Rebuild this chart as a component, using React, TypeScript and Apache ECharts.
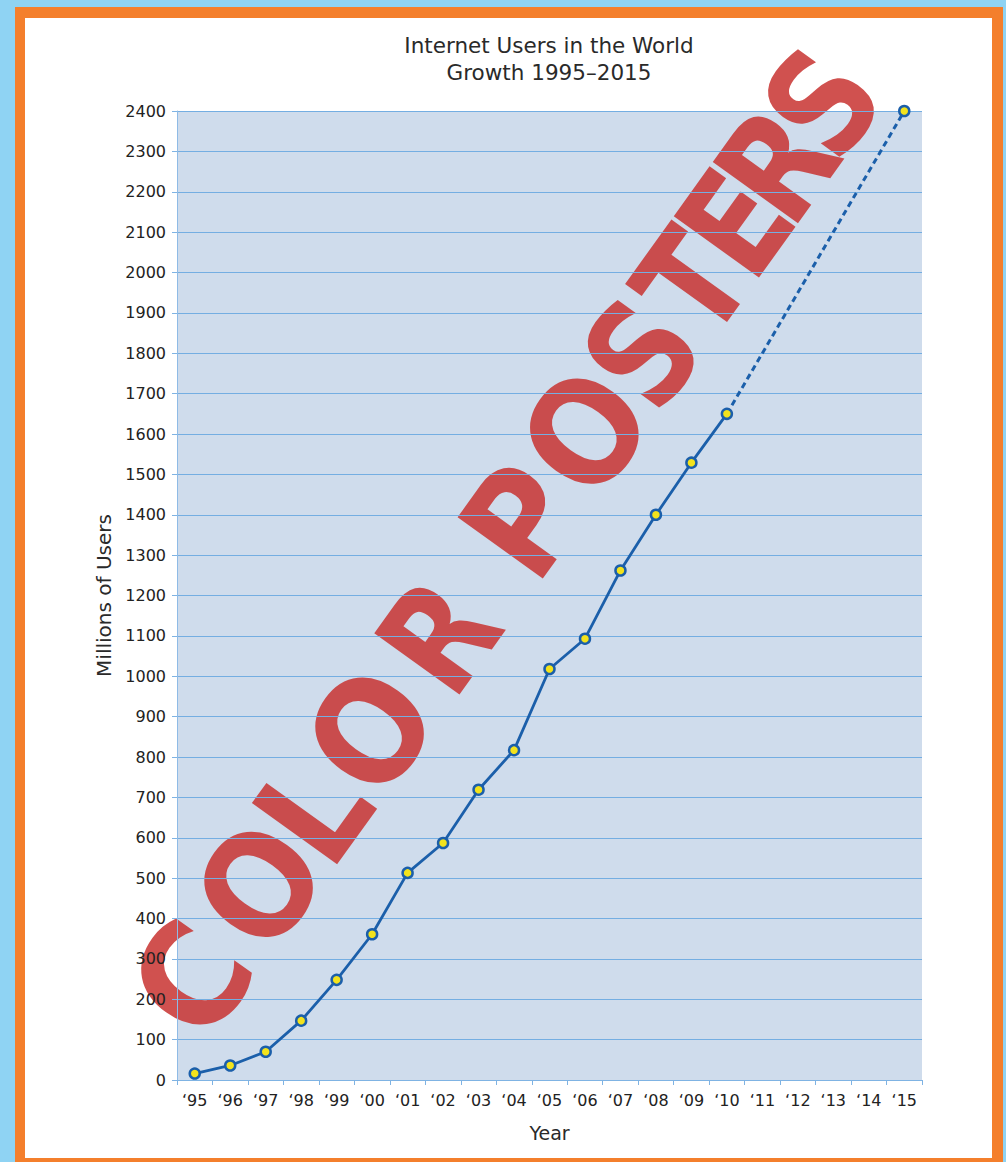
import React, { useEffect, useRef } from "react";
import * as echarts from "echarts";

const years = [
  "\u201895", "\u201896", "\u201897", "\u201898", "\u201899", "\u201800", "\u201801",
  "\u201802", "\u201803", "\u201804", "\u201805", "\u201806", "\u201807", "\u201808",
  "\u201809", "\u201810", "\u201811", "\u201812", "\u201813", "\u201814", "\u201815",
];
// Millions of users, 1995-2010 (solid line)
const usersActual = [16, 36, 70, 147, 248, 361, 513, 587, 719, 817, 1018, 1093, 1262, 1400, 1529, 1650];
// Projection from '10 to '15 (dashed line)
const projectionYears = ["\u201810", "\u201815"];
const projectionValues = [1650, 2400];

const titleLines = ["Internet Users in the World", "Growth 1995\u20132015"];
const watermark = "COLOR POSTERS";

const FONT = "DejaVu Sans";

export default function App() {
  const ref = useRef<HTMLDivElement>(null);
  useEffect(() => {
    document.body.style.margin = "0";
    if (!ref.current) return;
    const chart = echarts.init(ref.current, undefined, { renderer: "svg" });

    const solidData = years.map((_, i) => (i < usersActual.length ? usersActual[i] : null));
    const dashData = years.map((y) => {
      const k = projectionYears.indexOf(y);
      if (k < 0) return null;
      if (k === 0) return { value: projectionValues[k], symbol: "none" };
      return projectionValues[k];
    });

    // watermark letter positions along baseline (decoration)
    const letterPos = [0, 116, 208, 306, 423, -1, 565, 674, 771, 857, 931, 1003, 1080];
    const letterScale: Record<string, number> = { C: 0.92, O: 0.9, L: 0.92, R: 0.84, P: 0.88, S: 0.84, T: 0.82, E: 0.84 };
    const letters: any[] = [];
    watermark.split("").forEach((ch, i) => {
      if (ch === " ") return;
      letters.push({
        type: "text",
        x: letterPos[i],
        y: 0,
        scaleX: letterScale[ch] ?? 0.88,
        style: {
          text: ch,
          fill: "rgba(200,52,50,0.86)",
          font: `bold 144px "DejaVu Sans", sans-serif`,
          align: "center",
          verticalAlign: "middle",
        },
      });
    });

    const option: any = {
      animation: false,
      backgroundColor: "#8fd3f3",
      graphic: [
        { type: "rect", z: -10, silent: true, shape: { x: 15, y: 7, width: 988, height: 1160 }, style: { fill: "#f47f2c" } },
        { type: "rect", z: -9, silent: true, shape: { x: 25, y: 18, width: 967, height: 1140 }, style: { fill: "#ffffff" } },
        {
          type: "text",
          x: 549,
          y: 59,
          silent: true,
          style: {
            text: titleLines.join("\n"),
            fill: "#2a2a2a",
            font: `21.5px "${FONT}"`,
            align: "center",
            verticalAlign: "middle",
            lineHeight: 27,
          },
        },
        {
          type: "group",
          x: 193,
          y: 980,
          rotation: (54.3 * Math.PI) / 180,
          z: 100,
          silent: true,
          children: letters,
        },
      ],
      grid: {
        left: 177,
        top: 111,
        right: 1006 - 922,
        bottom: 1162 - 1080,
        show: true,
        backgroundColor: "#cfdcec",
        borderWidth: 0,
      },
      xAxis: {
        type: "category",
        data: years,
        boundaryGap: true,
        name: "Year",
        nameLocation: "middle",
        nameGap: 43,
        nameTextStyle: { fontFamily: FONT, fontSize: 19, color: "#2a2a2a" },
        axisLine: { show: true, lineStyle: { color: "#7fb3e3", width: 1 } },
        axisTick: { show: true, alignWithLabel: false, length: 5, lineStyle: { color: "#7fb3e3" } },
        axisLabel: { fontFamily: FONT, fontSize: 16, color: "#222", margin: 12 },
        splitLine: { show: false },
      },
      yAxis: {
        type: "value",
        min: 0,
        max: 2400,
        interval: 100,
        name: "Millions of Users",
        nameLocation: "middle",
        nameGap: 62,
        nameTextStyle: { fontFamily: FONT, fontSize: 20, color: "#2a2a2a" },
        axisLine: { show: true, lineStyle: { color: "#8fbbe6", width: 1 } },
        axisTick: { show: true, length: 5, lineStyle: { color: "#7fb3e3" } },
        axisLabel: {
          fontFamily: FONT,
          fontSize: 16,
          color: "#222",
          margin: 11,
          formatter: (v: number) => String(v),
        },
        splitLine: { show: true, lineStyle: { color: "#74aee2", width: 1 } },
      },
      series: [
        {
          type: "line",
          data: dashData,
          connectNulls: true,
          symbol: "circle",
          symbolSize: 10,
          showSymbol: true,
          lineStyle: { color: "#1b5faa", width: 3, type: [6, 4] },
          itemStyle: { color: "#f3e31c", borderColor: "#1b5faa", borderWidth: 2.5 },
          z: 3,
        },
        {
          type: "line",
          data: solidData,
          symbol: "circle",
          symbolSize: 10,
          showSymbol: true,
          lineStyle: { color: "#1b5faa", width: 2.8 },
          itemStyle: { color: "#f3e31c", borderColor: "#1b5faa", borderWidth: 2.5 },
          z: 4,
        },
      ],
    };
    chart.setOption(option);
    return () => chart.dispose();
  }, []);
  return <div ref={ref} style={{ width: 1006, height: 1162 }} />;
}
